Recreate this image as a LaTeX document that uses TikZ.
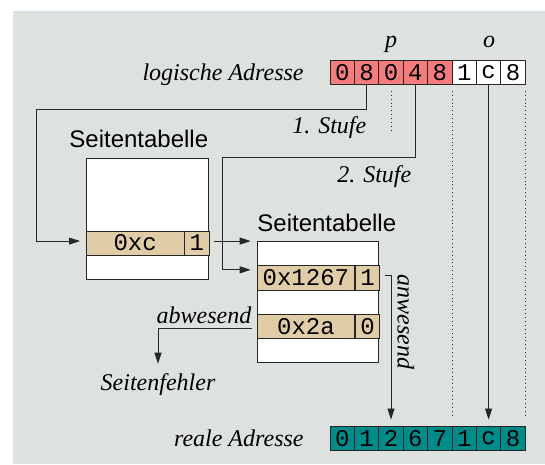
\documentclass[tikz,border=0pt]{standalone}
\usepackage{fontspec}
\setmainfont{Liberation Serif}
\setsansfont{Liberation Sans}
\setmonofont{Liberation Mono}
\usetikzlibrary{arrows.meta,positioning}
\definecolor{bg}{HTML}{DEE2DF}
\definecolor{pred}{HTML}{F47C7C}
\definecolor{ptan}{HTML}{E0CCA6}
\definecolor{pteal}{HTML}{008B8B}

\begin{document}
\fontsize{24}{28}\selectfont
\begin{tikzpicture}[x=1pt,y=-1pt,line width=.8pt,draw=black!85,
  cell/.style={draw=black!85,minimum width=24.4pt,minimum height=24.5pt,inner sep=0pt,font=\ttfamily},
  lbl/.style={inner sep=0pt,font=\itshape},
  tab/.style={draw,fill=white,minimum width=121.7pt,minimum height=121.3pt,inner sep=0pt,anchor=north west},
  entry/.style={draw,fill=ptan,minimum height=24.3pt,inner sep=0pt,font=\ttfamily},
  arr/.style={-{Triangle[length=11pt,width=7pt]},shorten >=6pt},
  dots/.style={dash pattern=on .9pt off 3pt,line width=.9pt}]
\useasboundingbox (0,0) rectangle (545,464);
\fill[bg] (12.7,10.7) rectangle (545,464);

\foreach \d/\c [count=\i] in {0/pred,8/pred,0/pred,4/pred,8/pred,1/white,c/white,8/white}
  \node[cell,fill=\c] (la\i) at ({317.8+24.4*\i},72.2) {\d};
\foreach \d [count=\i] in {0,1,2,6,7,1,c,8}
  \node[cell,fill=pteal] (ra\i) at ({317.8+24.4*\i},438.2) {\d};

\node[lbl,anchor=base east] (la) at (304,80) {logische Adresse};
\node[lbl,anchor=base east] (ra) at (304,446) {reale Adresse};
\node[lbl,anchor=base] (p) at (391,47) {p};
\node[lbl,anchor=base] (o) at (489,47) {o};

\node[tab] (tab1) at (86,157.7) {};
\node[entry,anchor=north west,minimum width=97.6pt] (r1v) at (86,230.5) {0xc};
\node[entry,minimum width=24.1pt,right=0pt of r1v] (r1f) {1};
\node[inner sep=0pt,anchor=base west,font=\sffamily] (st1) at (69,147) {Seitentabelle};

\node[tab] (tab2) at (256.7,241) {};
\node[entry,anchor=north west,minimum width=97.6pt] (r2v) at (256.7,265.3) {0x1267};
\node[entry,minimum width=24.1pt,right=0pt of r2v] (r2f) {1};
\node[entry,anchor=north west,minimum width=97.6pt] (r3v) at (256.7,313.9) {0x2a};
\node[entry,minimum width=24.1pt,right=0pt of r3v] (r3f) {0};
\node[inner sep=0pt,anchor=base west,font=\sffamily] (st2) at (257,231) {Seitentabelle};

\node[lbl,anchor=base east] (s1) at (366.7,133) {1. Stufe};
\node[lbl,anchor=base east] (s2) at (411.7,182) {2. Stufe};
\node[lbl,anchor=base east] (abw) at (251.7,323) {abwesend};
\node[lbl,anchor=base] (sf) at (158,390) {Seitenfehler};
\node[lbl,rotate=-90,anchor=base west] (anw) at (397.5,274) {anwesend};

\coordinate (k1) at (36.7,109);
\coordinate (k2) at (222.3,157.7);
\draw[arr] (la2.south) |- (k1) |- ([yshift=2pt]r1v.west);
\draw[arr] (la4.south) |- (k2) |- ([yshift=8pt]r2v.west);
\draw[arr,shorten <=5pt] ([yshift=2pt]r1f.east) -- ([yshift=2pt]r1f.east -| tab2.west);
\draw[arr,shorten <=5pt] ([yshift=2pt]r2f.east) -| (ra3.north);
\draw[arr] ([yshift=-5.3pt]abw.base east) -| ([yshift=3pt]sf.north);
\draw[arr] (la7.south) -- (ra7.north);

\draw[dots] ([yshift=-6pt]la3.south) -- ++(0,41);
\draw[dots] ([yshift=-6pt]la5.south east) -- ([yshift=9pt]ra5.north east);
\draw[dots] ([yshift=-6pt]la8.south east) -- ([yshift=9pt]ra8.north east);
\end{tikzpicture}
\end{document}
